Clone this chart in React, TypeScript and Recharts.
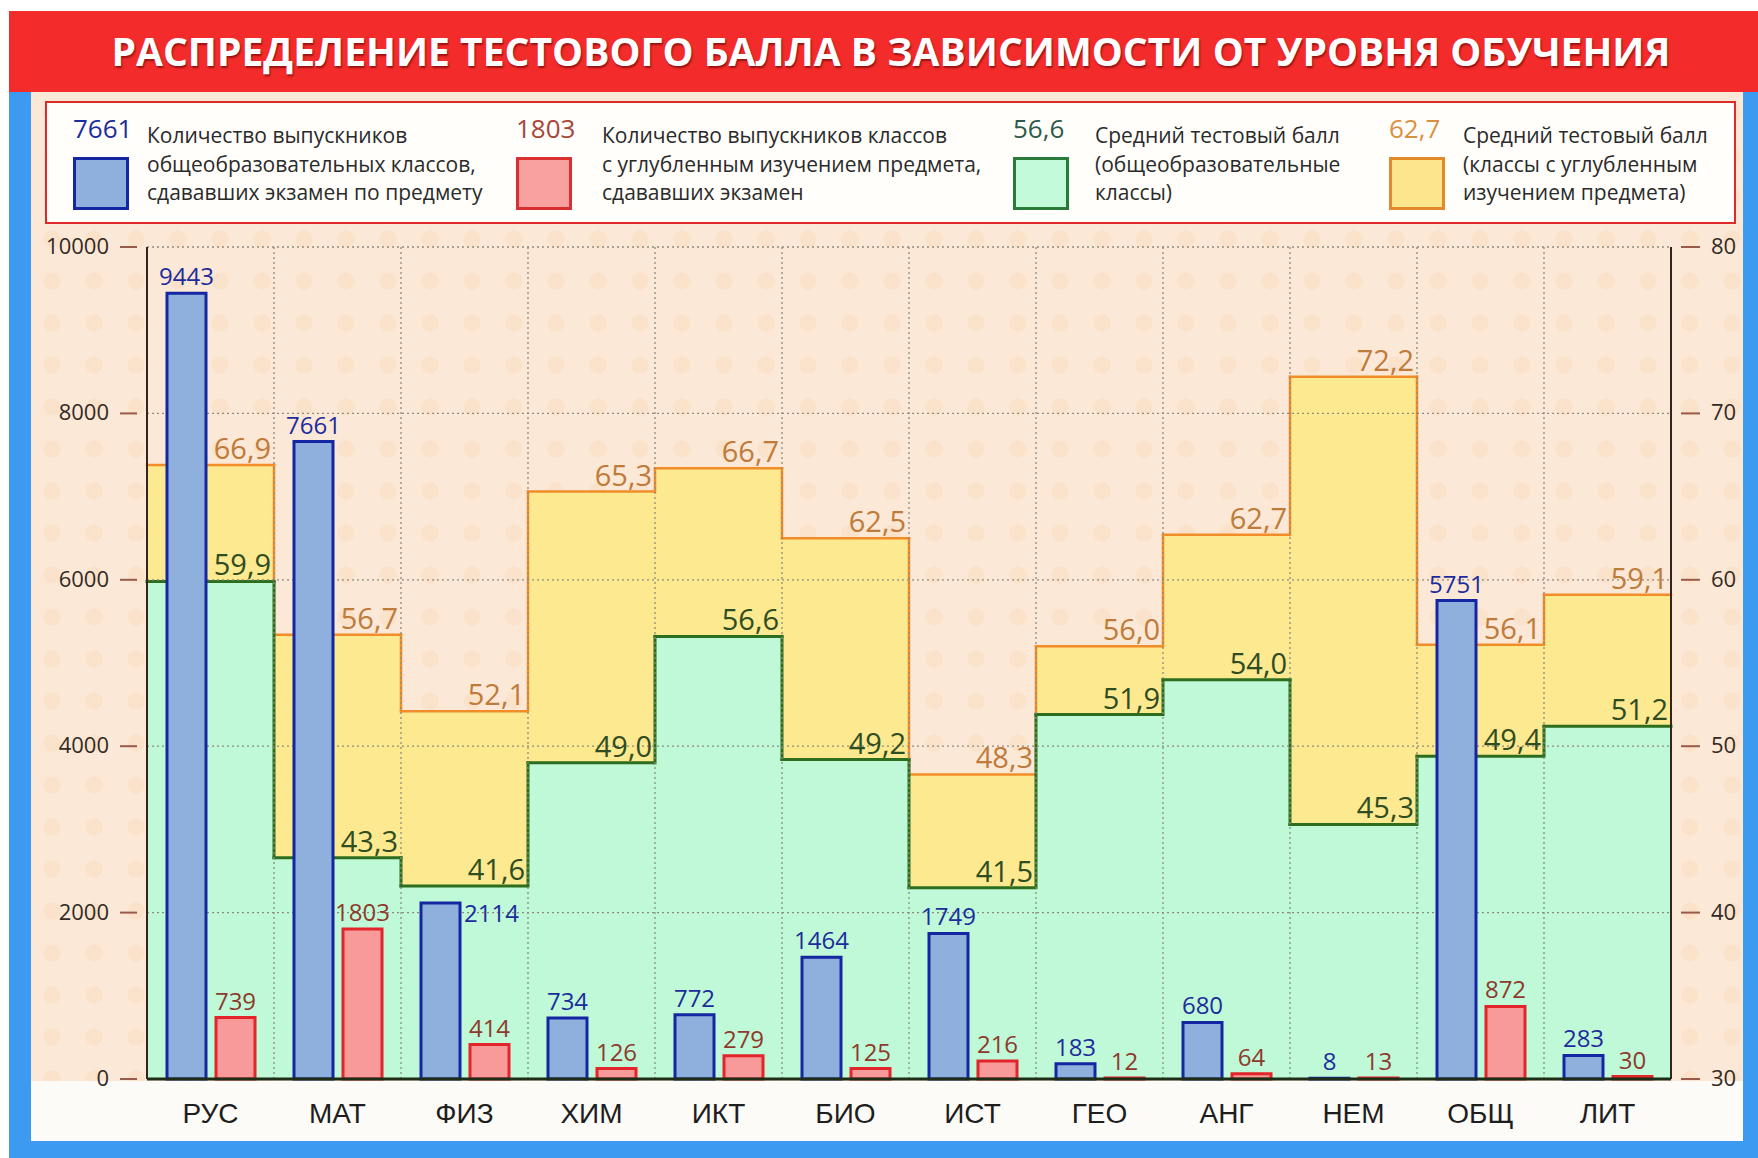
import React from "react";
import {
  BarChart,
  Bar,
  XAxis,
  YAxis,
  ReferenceLine,
  LabelList,
} from "recharts";

const categories = ["РУС", "МАТ", "ФИЗ", "ХИМ", "ИКТ", "БИО", "ИСТ", "ГЕО", "АНГ", "НЕМ", "ОБЩ", "ЛИТ"];
const generalCounts = [9443, 7661, 2114, 734, 772, 1464, 1749, 183, 680, 8, 5751, 283];
const deepCounts = [739, 1803, 414, 126, 279, 125, 216, 12, 64, 13, 872, 30];
const generalScores = [59.9, 43.3, 41.6, 49.0, 56.6, 49.2, 41.5, 51.9, 54.0, 45.3, 49.4, 51.2];
const deepScores = [66.9, 56.7, 52.1, 65.3, 66.7, 62.5, 48.3, 56.0, 62.7, 72.2, 56.1, 59.1];
const countTicks = [0, 2000, 4000, 6000, 8000, 10000];
const scoreTicks = [30, 40, 50, 60, 70, 80];
// label of this bar sits beside it, not above
const sideLabelCats = ["ФИЗ"];

const TITLE = "РАСПРЕДЕЛЕНИЕ ТЕСТОВОГО БАЛЛА В ЗАВИСИМОСТИ ОТ УРОВНЯ ОБУЧЕНИЯ";
const legendLines = [
  ["Количество выпускников", "общеобразовательных классов,", "сдававших экзамен по предмету"],
  ["Количество выпускников классов", "с углубленным изучением предмета,", "сдававших экзамен"],
  ["Средний тестовый балл", "(общеобразовательные", "классы)"],
  ["Средний тестовый балл", "(классы с углубленным", "изучением предмета)"],
];

const rows = categories.map((cat, i) => ({
  cat,
  general: generalCounts[i],
  deep: deepCounts[i],
  generalScore: generalScores[i],
  deepScore: deepScores[i],
}));

const W = 1758;
const H = 1158;
const SCORE_MIN = scoreTicks[0];
const FONT = '"Open Sans", sans-serif';

const C = {
  blueFill: "#8fb0dd",
  blueStroke: "#1426a2",
  blueText: "#1d2c9c",
  redFill: "#f99a9a",
  redStroke: "#e3242b",
  redText: "#8d3a2c",
  greenFill: "#bff9d7",
  greenStroke: "#2d6e1e",
  greenText: "#2f4d22",
  yellowFill: "#fde98f",
  yellowStroke: "#f28c28",
  yellowText: "#bf7b3a",
  tick: "#9a5a4a",
  axis: "#33251c",
  grid: "#8d8a80",
};

const fmt = (v: number) => v.toFixed(1).replace(".", ",");

// full-band step: fill + top edge + connector from the previous level
const makeStepShape = (values: number[], fill: string, stroke: string, sw: number) => (props: any) => {
  const { x, y, width, height, payload } = props;
  const i = categories.indexOf(payload.cat);
  const v = values[i];
  const base = y + height;
  const perUnit = height / (v - SCORE_MIN);
  const prevY = i > 0 ? base - (values[i - 1] - SCORE_MIN) * perUnit : null;
  return (
    <g>
      <rect x={x} y={y} width={width} height={height} fill={fill} />
      {prevY !== null && (
        <line x1={x} x2={x} y1={prevY} y2={y} stroke={stroke} strokeWidth={sw} strokeLinecap="square" />
      )}
      <line x1={x} x2={x + width} y1={y} y2={y} stroke={stroke} strokeWidth={sw} strokeLinecap="square" />
    </g>
  );
};

const yellowShape = makeStepShape(deepScores, C.yellowFill, C.yellowStroke, 2.5);
const greenShape = makeStepShape(generalScores, C.greenFill, C.greenStroke, 3);

const makeStepLabel = (values: number[], color: string) => (props: any) => {
  const vb = props.viewBox || props;
  const { x, y, width } = vb;
  const i = props.index;
  if (i === undefined || values[i] === undefined) return null;
  return (
    <text x={x + width - 3} y={y - 6} textAnchor="end" fill={color} fontSize={29} fontFamily={FONT}>
      {fmt(values[i])}
    </text>
  );
};

const makeBarLabel = (values: number[], color: string, allowSide: boolean) => (props: any) => {
  const vb = props.viewBox || props;
  const { x, y, width } = vb;
  const i = props.index;
  if (i === undefined) return null;
  if (allowSide && sideLabelCats.includes(categories[i])) {
    return (
      <text x={x + width + 4} y={y + 19} textAnchor="start" fill={color} fontSize={24} fontFamily={FONT}>
        {values[i]}
      </text>
    );
  }
  return (
    <text x={x + width / 2} y={y - 8} textAnchor="middle" fill={color} fontSize={24} fontFamily={FONT}>
      {values[i]}
    </text>
  );
};

const LeftTick = (props: any) => {
  const { x, y, payload } = props;
  return (
    <g>
      <line x1={x - 27} x2={x - 10} y1={y} y2={y} stroke={C.tick} strokeWidth={2} />
      <text x={x - 38} y={y + 7} textAnchor="end" fontSize={22} fill="#332a24" fontFamily={FONT}>
        {payload.value}
      </text>
    </g>
  );
};

const RightTick = (props: any) => {
  const { x, y, payload } = props;
  return (
    <g>
      <line x1={x + 10} x2={x + 29} y1={y} y2={y} stroke={C.tick} strokeWidth={2} />
      <text x={x + 40} y={y + 7} textAnchor="start" fontSize={22} fill="#332a24" fontFamily={FONT}>
        {payload.value}
      </text>
    </g>
  );
};

const CatTick = (props: any) => {
  const { x, y, payload } = props;
  return (
    <text x={x} y={y + 44} textAnchor="middle" fontSize={28} fill="#1e1e1e" fontFamily='"Liberation Sans", Arial, sans-serif'>
      {payload.value}
    </text>
  );
};

const legendItems = [
  { value: String(generalCounts[1]), color: C.blueText, fill: C.blueFill, stroke: C.blueStroke, left: 73, textLeft: 147 },
  { value: String(deepCounts[1]), color: "#a8453a", fill: "#f9a0a0", stroke: "#d83030", left: 516, textLeft: 602 },
  { value: fmt(generalScores[4]), color: "#2c5a48", fill: "#c3fada", stroke: "#2a7a3a", left: 1013, textLeft: 1095 },
  { value: fmt(deepScores[8]), color: "#d9903f", fill: "#fde58e", stroke: "#e08a2a", left: 1389, textLeft: 1463 },
];

const beige =
  "radial-gradient(circle, rgba(244,190,140,0.16) 0 8px, transparent 9px) 0 0 / 42px 42px, #fce8d6";

export default function App() {
  return (
    <div style={{ position: "absolute", left: 0, top: 0, width: W, height: H, overflow: "hidden", background: "#fff", fontFamily: FONT }}>
      {/* frame */}
      <div style={{ position: "absolute", left: 31, top: 92, width: 1712, height: 989, background: beige }} />
      <div style={{ position: "absolute", left: 31, top: 1081, width: 1712, height: 60, background: "#fdfbf7" }} />
      <div style={{ position: "absolute", left: 9, top: 92, width: 22, height: 1066, background: "#3c9bf0" }} />
      <div style={{ position: "absolute", left: 1743, top: 92, width: 15, height: 1066, background: "#3c9bf0" }} />
      <div style={{ position: "absolute", left: 9, top: 1141, width: 1749, height: 17, background: "#3c9bf0" }} />
      <div style={{ position: "absolute", left: 9, top: 11, width: 1749, height: 81, background: "#f42b2b" }}>
        <svg width={1749} height={81}>
          <text
            x={882}
            y={55}
            textAnchor="middle"
            textLength={1559}
            lengthAdjust="spacingAndGlyphs"
            fontSize={40}
            fontWeight={700}
            fill="#ffffff"
            fontFamily={FONT}
            style={{ textShadow: "1px 2px 2px rgba(90,0,0,0.6)" }}
          >
            {TITLE}
          </text>
        </svg>
      </div>

      {/* legend */}
      <div style={{ position: "absolute", left: 45, top: 101, width: 1687, height: 119, border: "2px solid #e02a2a", background: "#fffefa" }} />
      {legendItems.map((it, k) => (
        <React.Fragment key={k}>
          <div style={{ position: "absolute", left: it.left, top: 112, fontSize: 26, lineHeight: "32px", color: it.color }}>
            {it.value}
          </div>
          <div
            style={{
              position: "absolute",
              left: it.left,
              top: 157,
              width: 50,
              height: 47,
              background: it.fill,
              border: `3px solid ${it.stroke}`,
            }}
          />
          <div style={{ position: "absolute", left: it.textLeft, top: 121, fontSize: 21, lineHeight: "28.5px", color: "#2a2a2a", whiteSpace: "nowrap" }}>
            {legendLines[k].map((l, j) => (
              <div key={j}>{l}</div>
            ))}
          </div>
        </React.Fragment>
      ))}

      {/* chart */}
      <div style={{ position: "absolute", left: 0, top: 0 }}>
        <BarChart
          width={W}
          height={H}
          data={rows}
          margin={{ top: 247, right: 17, bottom: 19, left: 47 }}
          barGap={10}
          barCategoryGap={0}
        >
          <XAxis xAxisId="bandY" dataKey="cat" orientation="top" height={0} hide />
          <XAxis xAxisId="bandG" dataKey="cat" orientation="top" height={0} hide />
          <XAxis
            xAxisId="cat"
            dataKey="cat"
            height={60}
            tickLine={false}
            tickSize={0}
            tickMargin={0}
            axisLine={{ stroke: "#1d2d16", strokeWidth: 3 }}
            tick={<CatTick />}
            interval={0}
          />
          <YAxis
            yAxisId="count"
            orientation="left"
            width={100}
            domain={[0, 10000]}
            ticks={countTicks}
            interval={0}
            tickLine={false}
            tickSize={0}
            tickMargin={0}
            axisLine={{ stroke: C.axis, strokeWidth: 2 }}
            tick={<LeftTick />}
          />
          <YAxis
            yAxisId="score"
            orientation="right"
            width={70}
            domain={[30, 80]}
            ticks={scoreTicks}
            interval={0}
            tickLine={false}
            tickSize={0}
            tickMargin={0}
            axisLine={{ stroke: C.axis, strokeWidth: 2 }}
            tick={<RightTick />}
          />

          <Bar xAxisId="bandY" yAxisId="score" dataKey="deepScore" shape={yellowShape} isAnimationActive={false} zIndex={100}>
            <LabelList content={makeStepLabel(deepScores, C.yellowText)} />
          </Bar>
          <Bar xAxisId="bandG" yAxisId="score" dataKey="generalScore" shape={greenShape} isAnimationActive={false} zIndex={110}>
            <LabelList content={makeStepLabel(generalScores, C.greenText)} />
          </Bar>

          {countTicks.slice(1).map((t) => (
            <ReferenceLine
              key={`h${t}`}
              xAxisId="cat"
              yAxisId="count"
              y={t}
              stroke={C.grid}
              strokeWidth={1.3}
              strokeDasharray="2 3"
              zIndex={200}
            />
          ))}
          {categories.slice(0, -1).map((c) => (
            <ReferenceLine
              key={`v${c}`}
              xAxisId="cat"
              yAxisId="count"
              x={c}
              position="end"
              stroke={C.grid}
              strokeWidth={1.3}
              strokeDasharray="2 3"
              zIndex={200}
            />
          ))}

          <Bar
            xAxisId="cat"
            yAxisId="count"
            dataKey="general"
            barSize={39}
            fill={C.blueFill}
            stroke={C.blueStroke}
            strokeWidth={3}
            isAnimationActive={false}
            zIndex={300}
          >
            <LabelList content={makeBarLabel(generalCounts, C.blueText, true)} />
          </Bar>
          <Bar
            xAxisId="cat"
            yAxisId="count"
            dataKey="deep"
            barSize={39}
            fill={C.redFill}
            stroke={C.redStroke}
            strokeWidth={3}
            isAnimationActive={false}
            zIndex={300}
          >
            <LabelList content={makeBarLabel(deepCounts, C.redText, false)} />
          </Bar>
        </BarChart>
      </div>
    </div>
  );
}
